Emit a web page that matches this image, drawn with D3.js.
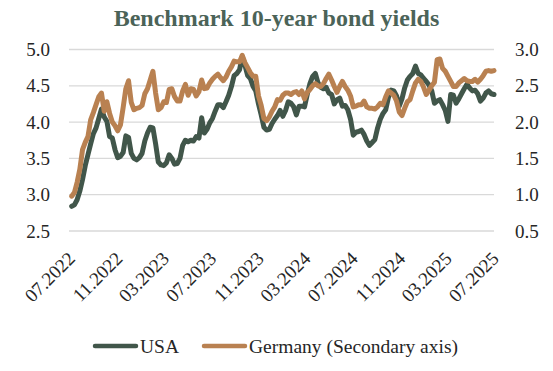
<!DOCTYPE html>
<html>
<head>
<meta charset="utf-8">
<script src="https://cdn.jsdelivr.net/npm/d3@7"></script>
<style>
  body { margin: 0; background: #fff; }
  text { font-family: "Liberation Serif", "DejaVu Serif", serif; }
</style>
</head>
<body>
<svg id="chart"></svg>
<script>
// ── Data (weekly) ──
const firstWeek = '2022-07-08';
const lastWeek = '2025-07-05';

const usa = [
  2.84, 2.86, 2.93, 3.05, 3.21, 3.40, 3.55, 3.70, 3.84, 3.92, 4.05, 4.18, 4.07, 4.01, 3.80, 3.78, 3.62, 3.51, 3.53, 3.58,
  3.81, 3.79, 3.57, 3.50, 3.48, 3.51, 3.57, 3.74, 3.85, 3.93, 3.92, 3.70, 3.45, 3.41, 3.40, 3.44, 3.55, 3.50, 3.42,
  3.43, 3.50, 3.68, 3.75, 3.73, 3.75, 3.74, 3.80, 3.78, 4.06, 3.85, 3.90, 3.99, 4.05, 4.15, 4.24, 4.24, 4.20, 4.28, 4.37,
  4.49, 4.64, 4.67, 4.72, 4.90, 4.78, 4.64, 4.60, 4.49, 4.43, 4.25, 4.10, 3.93, 3.89, 3.90, 3.98, 4.04, 4.09, 4.16,
  4.08, 4.16, 4.28, 4.26, 4.21, 4.10, 4.22, 4.22, 4.21, 4.38, 4.53, 4.63, 4.67, 4.54, 4.48, 4.46, 4.48, 4.40, 4.38, 4.25,
  4.31, 4.33, 4.22, 4.23, 4.17, 4.04, 3.82, 3.86, 3.87, 3.89, 3.83, 3.74, 3.68, 3.72, 3.76, 3.92, 4.04, 4.12, 4.17,
  4.34, 4.44, 4.43, 4.36, 4.22, 4.32, 4.47, 4.58, 4.63, 4.67, 4.77, 4.67, 4.65, 4.60, 4.56, 4.51, 4.43, 4.26, 4.29, 4.31,
  4.24, 4.16, 4.01, 4.38, 4.37, 4.26, 4.32, 4.39, 4.46, 4.52, 4.47, 4.43, 4.44, 4.39, 4.29, 4.33, 4.40, 4.43, 4.39, 4.38
];

const germany = [
  0.98, 1.03, 1.17, 1.35, 1.62, 1.72, 1.80, 2.03, 2.13, 2.24, 2.35, 2.40, 2.15, 2.28, 2.12, 2.00, 1.95, 1.88, 1.96, 2.20,
  2.46, 2.57, 2.27, 2.17, 2.19, 2.20, 2.23, 2.39, 2.46, 2.58, 2.70, 2.40, 2.17, 2.20, 2.28, 2.27, 2.45, 2.46, 2.35,
  2.29, 2.29, 2.43, 2.52, 2.37, 2.46, 2.45, 2.36, 2.42, 2.58, 2.46, 2.47, 2.54, 2.59, 2.63, 2.66, 2.61, 2.57, 2.62, 2.70,
  2.76, 2.84, 2.83, 2.83, 2.92, 2.82, 2.75, 2.68, 2.63, 2.63, 2.36, 2.23, 2.05, 2.02, 2.07, 2.15, 2.21, 2.31, 2.30,
  2.37, 2.40, 2.40, 2.38, 2.41, 2.42, 2.38, 2.43, 2.32, 2.41, 2.45, 2.50, 2.53, 2.50, 2.49, 2.53, 2.60, 2.66, 2.58, 2.49,
  2.41, 2.49, 2.56, 2.49, 2.44, 2.36, 2.21, 2.22, 2.24, 2.24, 2.29, 2.21, 2.19, 2.19, 2.18, 2.21, 2.26, 2.24, 2.35,
  2.43, 2.40, 2.37, 2.29, 2.14, 2.09, 2.19, 2.28, 2.31, 2.43, 2.54, 2.59, 2.56, 2.48, 2.38, 2.44, 2.50, 2.55, 2.86, 2.87,
  2.74, 2.70, 2.63, 2.56, 2.49, 2.49, 2.54, 2.57, 2.60, 2.57, 2.56, 2.56, 2.59, 2.55, 2.59, 2.64, 2.70, 2.71, 2.70, 2.71
];

const monthLabels = ['07.2022', '11.2022', '03.2023', '07.2023', '11.2023', '03.2024', '07.2024', '11.2024', '03.2025', '07.2025'];
const leftTicks = [2.5, 3.0, 3.5, 4.0, 4.5, 5.0];
const rightTicks = [0.5, 1.0, 1.5, 2.0, 2.5, 3.0];
const series = ['USA', 'Germany (Secondary axis)'];

// ── Setup ──
const W = 553, H = 371;
const C = { usa: '#41564a', ger: '#b98151', grid: '#d9d9d9', txt: '#262626', title: '#4b6358' };
const svg = d3.select('#chart').attr('width', W).attr('height', H);

const parseDay = d3.timeParse('%Y-%m-%d');
const parseMonth = d3.timeParse('%m.%Y');
const weeks = d3.timeFriday.range(parseDay(firstWeek), parseDay(lastWeek));

const x = d3.scaleTime()
  .domain([parseMonth('07.2022'), parseDay('2025-07-04')])
  .range([69, 494]);
const yL = d3.scaleLinear().domain([2.5, 5.0]).range([231, 49.5]);
const yR = d3.scaleLinear().domain([0.5, 3.0]).range([231, 49.5]);

// ── Title ──
svg.append('text').text('Benchmark 10-year bond yields')
  .attr('x', W / 2).attr('y', 26).attr('text-anchor', 'middle')
  .attr('font-size', '24px').attr('font-weight', 'bold').attr('fill', C.title);

// ── Gridlines ──
svg.append('g').selectAll('line').data(leftTicks).enter().append('line')
  .attr('x1', x.range()[0]).attr('x2', x.range()[1])
  .attr('y1', d => yL(d)).attr('y2', d => yL(d))
  .attr('stroke', C.grid).attr('stroke-width', 1.3);

// ── Axes ──
const axL = svg.append('g').attr('transform', 'translate(50,0)')
  .call(d3.axisLeft(yL).tickValues(leftTicks).tickFormat(d3.format('.1f')).tickSize(0).tickPadding(0));
const axR = svg.append('g').attr('transform', 'translate(515,0)')
  .call(d3.axisRight(yR).tickValues(rightTicks).tickFormat(d3.format('.1f')).tickSize(0).tickPadding(0));
[axL, axR].forEach(a => {
  a.select('.domain').remove();
  a.selectAll('text').attr('font-size', '19px').attr('fill', C.txt).attr('font-family', 'Liberation Serif');
});

const axX = svg.append('g').attr('transform', 'translate(0,255)')
  .call(d3.axisBottom(x).tickValues(monthLabels.map(parseMonth)).tickFormat(d3.timeFormat('%m.%Y')).tickSize(0).tickPadding(0));
axX.select('.domain').remove();
axX.selectAll('text')
  .attr('font-size', '19px').attr('fill', C.txt).attr('font-family', 'Liberation Serif')
  .attr('text-anchor', 'end').attr('y', 0).attr('dy', '0.35em')
  .attr('transform', 'translate(2,0) rotate(-45)');

// ── Lines ──
const lineUsa = d3.line().x((d, i) => x(weeks[i])).y(d => yL(d));
const lineGer = d3.line().x((d, i) => x(weeks[i])).y(d => yR(d));

svg.append('path').datum(usa.slice(0, weeks.length))
  .attr('d', lineUsa).attr('fill', 'none').attr('stroke', C.usa)
  .attr('stroke-width', 5).attr('stroke-linejoin', 'round').attr('stroke-linecap', 'round');
svg.append('path').datum(germany.slice(0, weeks.length))
  .attr('d', lineGer).attr('fill', 'none').attr('stroke', C.ger)
  .attr('stroke-width', 5).attr('stroke-linejoin', 'round').attr('stroke-linecap', 'round');

// ── Legend ──
const lg = svg.append('g').attr('transform', 'translate(0,346)');
[{ l: series[0], c: C.usa, x: 95 }, { l: series[1], c: C.ger, x: 204 }].forEach(s => {
  lg.append('line').attr('x1', s.x).attr('x2', s.x + 41).attr('y1', 0).attr('y2', 0)
    .attr('stroke', s.c).attr('stroke-width', 4.5).attr('stroke-linecap', 'round');
  lg.append('text').text(s.l).attr('x', s.x + 45).attr('y', 0).attr('dy', '0.35em')
    .attr('font-size', '19.5px').attr('fill', C.txt);
});
</script>
</body>
</html>
